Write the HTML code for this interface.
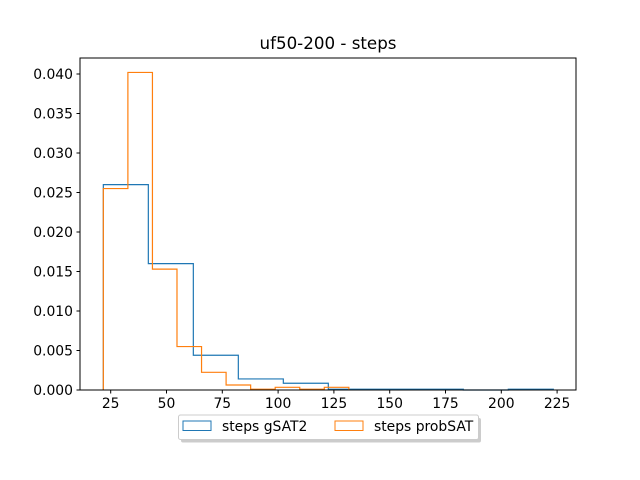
<!DOCTYPE html>
<html><head><meta charset="utf-8"><style>
body{margin:0;background:#fff}
svg{display:block;font-family:"DejaVu Sans","Liberation Sans",sans-serif}
</style></head><body>
<svg id="chart" width="640" height="480">
<rect width="640" height="480" fill="#fff"/>
<text x="328" y="49" font-size="16.7" text-anchor="middle">uf50-200 - steps</text>
<g id="marks"></g>
<g id="axes"></g>
<g>
<rect x="181" y="418" width="300" height="24.5" fill="#999" opacity="0.5" rx="2"/>
<rect x="178.5" y="415" width="300" height="24.5" fill="#fff" stroke="#ccc" rx="2"/>
<rect x="183" y="421" width="28" height="9.5" fill="none" stroke="#1f77b4"/>
<text x="222" y="431" font-size="13.9">steps gSAT2</text>
<rect x="335" y="421" width="28" height="9.5" fill="none" stroke="#ff7f0e"/>
<text x="374" y="431" font-size="13.9">steps probSAT</text>
</g>
</svg>
<script>
const gsatStart = 21.7, gsatWidth = 20.16;
const gsatValues = [0.026, 0.016, 0.0044, 0.0014, 0.00085, 0.0001, 0.0001, 0.0001, 0, 0.0001];
const probStart = 21.7, probWidth = 11.0;
const probValues = [0.0255, 0.0402, 0.0153, 0.0055, 0.00224, 0.00063, 0.0001, 0.00034, 0.0001, 0.00034];
const xTicks = [25, 50, 75, 100, 125, 150, 175, 200, 225];
const yTicks = [0, 0.005, 0.010, 0.015, 0.020, 0.025, 0.030, 0.035, 0.040];
const yTickLabels = ["0.000","0.005","0.010","0.015","0.020","0.025","0.030","0.035","0.040"];

const L=80,R=576,T=58,B=390;
const xs=v=>110.7+(v-25)*2.232;
const ys=v=>B-v*7900;
const NS="http://www.w3.org/2000/svg";
function mk(tag,attrs,parent){const e=document.createElementNS(NS,tag);for(const k in attrs)e.setAttribute(k,attrs[k]);parent.appendChild(e);return e;}
const marks=document.getElementById('marks'), axes=document.getElementById('axes');
function step(start,w,vals,color,name){
  let d=`M${xs(start)},${ys(0)}`;
  vals.forEach((v,i)=>{d+=` L${xs(start+i*w)},${ys(v)} L${xs(start+(i+1)*w)},${ys(v)}`;});
  d+=` L${xs(start+vals.length*w)},${ys(0)}`;
  const p=mk('path',{d:d,fill:'none',stroke:color,'stroke-width':1.2},marks);
  
  
}
step(gsatStart,gsatWidth,gsatValues,'#1f77b4','series-gsat2');
step(probStart,probWidth,probValues,'#ff7f0e','series-probsat');
const frame=mk('rect',{x:L,y:T,width:R-L,height:B-T,fill:'none',stroke:'#000','stroke-width':1},axes);


xTicks.forEach(t=>{
  const x=xs(t);
  mk('line',{x1:x,x2:x,y1:B,y2:B+3.5,stroke:'#000'},axes);
  const tx=mk('text',{x:x,y:B+18,'font-size':13.9,'text-anchor':'middle'},axes);
  tx.textContent=t;
  
  
});
yTicks.forEach((t,i)=>{
  const y=ys(t);
  mk('line',{x1:L-3.5,x2:L,y1:y,y2:y,stroke:'#000'},axes);
  const tx=mk('text',{x:L-7,y:y+5,'font-size':13.9,'text-anchor':'end'},axes);
  tx.textContent=yTickLabels[i];
  
  
});
</script>
</body></html>
